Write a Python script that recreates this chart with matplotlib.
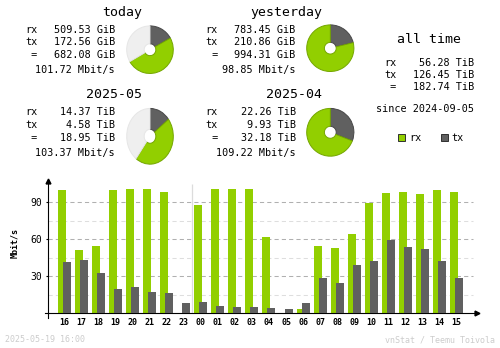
import matplotlib
matplotlib.use('Agg')
import matplotlib.pyplot as plt
from matplotlib.patches import Rectangle
import numpy as np

plt.rcParams['font.family'] = ['DejaVu Sans Mono']

W, H = 500, 348
RX = '#92cf00'
TX = '#606060'

# hourly averages, Mbit/s
hours = ['16', '17', '18', '19', '20', '21', '22', '23', '00', '01', '02', '03',
         '04', '05', '06', '07', '08', '09', '10', '11', '12', '13', '14', '15']
rx_mbit = [100, 51.3, 54.6, 100, 101, 101, 98.4, 0, 87.8, 101, 101, 101,
           61.9, 0, 3.5, 54.6, 53, 64.3, 89.5, 97.6, 98.4, 96.8, 100, 98.4]
tx_mbit = [41.6, 43.2, 32.7, 19.7, 21.3, 17.3, 16.5, 8.4, 9.2, 5.9, 5.1, 5.1,
           4.3, 3.5, 8.4, 28.6, 24.6, 39.3, 42.5, 59.5, 53.8, 52.2, 42.5, 28.6]

# summary panels
panel_titles = ['today', 'yesterday', '2025-05', '2025-04']
panel_rx = ['509.53 GiB', '783.45 GiB', '14.37 TiB', '22.26 TiB']
panel_tx = ['172.56 GiB', '210.86 GiB', '4.58 TiB', '9.93 TiB']
panel_total = ['682.08 GiB', '994.31 GiB', '18.95 TiB', '32.18 TiB']
panel_rate = ['101.72 Mbit/s', '98.85 Mbit/s', '103.37 Mbit/s', '109.22 Mbit/s']
pie_rx = [509.53, 783.45, 14.37, 22.26]
pie_tx = [172.56, 210.86, 4.58, 9.93]
pie_elapsed = [16 / 24, 1.0, (18 + 16 / 24) / 31, 1.0]

alltime_rx = '56.28 TiB'
alltime_tx = '126.45 TiB'
alltime_total = '182.74 TiB'
since = 'since 2024-09-05'
stamp = '2025-05-19 16:00'

fig = plt.figure(figsize=(W / 100, H / 100), dpi=100)
fig.patch.set_facecolor('white')

# overlay in pixel coords for the text block
ov = fig.add_axes([0, 0, 1, 1])
ov.set_xlim(0, W)
ov.set_ylim(H, 0)
ov.axis('off')

# layout: text left, value right, title right, title y, row ys, pie box
layout = [
    (25, 115, 142, 12.5, [30, 42.3, 54.6, 69.8], (150, 49.7, 24, 24.5)),
    (205.7, 295.7, 322, 12.5, [30, 42.3, 54.6, 69.8], (330.3, 48.2, 24.3, 24)),
    (25, 115, 142, 95, [112.3, 124.8, 138.2, 152.8], (150, 136.3, 24, 28.7)),
    (205.7, 295.7, 322, 95, [112.3, 124.8, 138.2, 152.8], (330.3, 132.3, 24.3, 24.6)),
]

fs = 7.3
for i, (xl, xr, xt, yt, rows, pie) in enumerate(layout):
    ov.text(xt, yt, panel_titles[i], ha='right', va='center', fontsize=9.5)
    ov.text(xl, rows[0], 'rx', ha='left', va='center', fontsize=fs)
    ov.text(xl, rows[1], 'tx', ha='left', va='center', fontsize=fs)
    ov.text(xl, rows[2], ' =', ha='left', va='center', fontsize=fs)
    ov.text(xr, rows[0], panel_rx[i], ha='right', va='center', fontsize=fs)
    ov.text(xr, rows[1], panel_tx[i], ha='right', va='center', fontsize=fs)
    ov.text(xr, rows[2], panel_total[i], ha='right', va='center', fontsize=fs)
    ov.text(xr, rows[3], panel_rate[i], ha='right', va='center', fontsize=fs)

    cx, cy, rw, rh = pie
    pa = fig.add_axes([(cx - rw) / W, 1 - (cy + rh) / H, 2 * rw / W, 2 * rh / H])
    total = pie_rx[i] + pie_tx[i]
    rest = total * (1 / pie_elapsed[i] - 1)
    vals = [pie_tx[i], pie_rx[i]]
    cols = [TX, RX]
    edges = ['#484848', '#74a600']
    if rest > 0:
        vals.append(rest)
        cols.append('#efefef')
        edges.append('#e6e6e6')
    wedges, _ = pa.pie(vals, colors=cols, startangle=90, counterclock=False,
                       wedgeprops=dict(width=0.75, linewidth=0.7))
    for w, e in zip(wedges, edges):
        w.set_edgecolor(e)
    pa.set_aspect('auto')
    pa.set_xlim(-1.03, 1.03)
    pa.set_ylim(-1.03, 1.03)
    pa.axis('off')

# all time block
ov.text(429, 39.5, 'all time', ha='center', va='center', fontsize=9.5)
ov.text(384.3, 63, 'rx', ha='left', va='center', fontsize=fs)
ov.text(384.3, 75, 'tx', ha='left', va='center', fontsize=fs)
ov.text(384.3, 87.5, ' =', ha='left', va='center', fontsize=fs)
ov.text(474, 63, alltime_rx, ha='right', va='center', fontsize=fs)
ov.text(474, 75, alltime_tx, ha='right', va='center', fontsize=fs)
ov.text(474, 87.5, alltime_total, ha='right', va='center', fontsize=fs)
ov.text(474, 108.8, since, ha='right', va='center', fontsize=fs)

# legend
ov.add_patch(Rectangle((398.3, 134.3), 6.7, 6.7, facecolor=RX, edgecolor='#303030', lw=0.7))
ov.text(409, 138.3, 'rx', ha='left', va='center', fontsize=fs)
ov.add_patch(Rectangle((441, 134.3), 6.7, 6.7, facecolor=TX, edgecolor='#303030', lw=0.7))
ov.text(451.7, 138.3, 'tx', ha='left', va='center', fontsize=fs)

# footer
ov.text(5, 340, stamp, ha='left', va='center', fontsize=6, color='#cccccc')
ov.text(495, 340, 'vnStat / Teemu Toivola', ha='right', va='center', fontsize=6, color='#cccccc')
ov.text(14.7, 243, 'Mbit/s', rotation=90, ha='center', va='center', fontsize=6, weight='bold')

# hourly bar chart
left, right, top, base = 48.3, 477, 181, 313.3
step = 17.04
ax = fig.add_axes([left / W, 1 - base / H, (right - left) / W, (base - top) / H])
x0 = (left - 64.5) / step
x1 = (right - 64.5) / step
ymax = (base - top) / 1.2333
ax.set_xlim(x0, x1)
ax.set_ylim(0, ymax)
ax.patch.set_alpha(0)

x = np.arange(len(hours))
gx1 = (473 - 64.5) / step
ax.hlines([15, 45, 75], x0, gx1, colors='#dedede', linestyles=(0, (4, 3)), lw=0.75, zorder=1)
ax.hlines([30, 60, 90], x0, gx1, colors='#b0b0b0', linestyles=(0, (4, 3)), lw=0.75, zorder=1)
ax.vlines(hours.index('00') - 0.5, 0, 104.8, colors='#dcdcdc', lw=0.9, zorder=1)

ax.bar(x - 0.147, rx_mbit, width=0.47, color=RX, linewidth=0, zorder=2)
ax.bar(x + 0.147, tx_mbit, width=0.47, color=TX, linewidth=0, zorder=3)

for s in ['top', 'right']:
    ax.spines[s].set_visible(False)
for s in ['left', 'bottom']:
    ax.spines[s].set_linewidth(0.8)
    ax.spines[s].set_color('black')
ax.axhline(0, xmin=-0.008, xmax=0, color='black', lw=0.8, clip_on=False)
ax.axvline(x0, ymin=-0.034, ymax=0, color='black', lw=0.8, clip_on=False)
ax.plot(1, 0, '>', color='black', ms=3.5, transform=ax.get_yaxis_transform(), clip_on=False)
ax.plot(x0, 1, '^', color='black', ms=3.5, transform=ax.get_xaxis_transform(), clip_on=False)

ax.set_xticks(x)
ax.set_xticklabels(hours, fontsize=6, weight='bold')
ax.tick_params(axis='x', length=0, pad=3.2)
ax.set_yticks([30, 60, 90])
ax.set_yticklabels(['30', '60', '90'], fontsize=7)
ax.tick_params(axis='y', length=1.8, width=0.8, pad=2.7)

fig.savefig('out.png', dpi=100, facecolor='white')
